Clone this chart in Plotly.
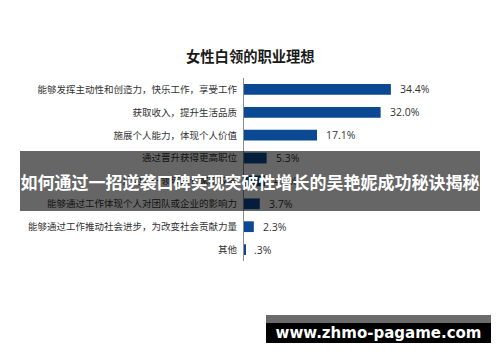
import plotly.graph_objects as go

categories = [
    "能够发挥主动性和创造力，快乐工作，享受工作",
    "获取收入，提升生活品质",
    "施展个人能力，体现个人价值",
    "通过晋升获得更高职位",
    "成为某一领域的专家或权威",
    "能够通过工作体现个人对团队或企业的影响力",
    "能够通过工作推动社会进步，为改变社会贡献力量",
    "其他",
]
values = [34.4, 32.0, 17.1, 5.3, 4.9, 3.7, 2.3, 0.3]
value_labels = ["34.4%", "32.0%", "17.1%", "5.3%", "4.9%", "3.7%", "2.3%", ".3%"]
title_text = "女性白领的职业理想"
banner_text = "如何通过一招逆袭口碑实现突破性增长的吴艳妮成功秘诀揭秘"
watermark_text = "www.zhmo-pagame.com"

W, H = 500, 362
L, R, T, B = 244, 21, 78, 101
PW, PH = W - L - R, H - T - B


def px(x):
    return (x - L) / PW


def py(y):
    return (H - B - y) / PH


CJK = "Noto Sans CJK SC"

fig = go.Figure(go.Bar(
    x=values, y=categories, orientation="h",
    marker=dict(color="#0b4a93", line=dict(width=0)),
    hoverinfo="skip",
))

annotations = []
for v, c, t in zip(values, categories, value_labels):
    annotations.append(dict(
        x=v, y=c, xref="x", yref="y", text=t, showarrow=False,
        xanchor="left", yanchor="middle", xshift=7,
        font=dict(family="Open Sans, " + CJK, size=10.5, color="#333333"),
    ))

annotations.append(dict(
    x=px(250), y=py(55), xref="paper", yref="paper", text="<b>" + title_text + "</b>",
    showarrow=False, xanchor="center", yanchor="middle",
    font=dict(family=CJK, size=14.3, color="#1a1a1a"),
))

annotations.append(dict(
    x=px(250), y=py(181), xref="paper", yref="paper", text="<b>" + banner_text + "</b>",
    showarrow=False, xanchor="center", yanchor="middle",
    width=460, height=60, bgcolor="rgba(0,0,0,0.6)", borderpad=0, borderwidth=0,
    font=dict(family=CJK, size=17, color="#ffffff"),
))

annotations.append(dict(
    x=px(378.5), y=py(333), xref="paper", yref="paper", text="<b>" + watermark_text + "</b>",
    showarrow=False, xanchor="center", yanchor="middle",
    width=225, height=20, bgcolor="#000000", borderpad=0, borderwidth=0,
    font=dict(family="DejaVu Sans, Open Sans", size=15, color="#ffffff"),
))

shapes = [dict(
    type="rect", xref="paper", yref="paper",
    x0=px(266), x1=px(491), y0=py(323), y1=py(315),
    fillcolor="#6b6b6b", line=dict(width=0), layer="above",
)]

fig.update_layout(
    width=W, height=H,
    margin=dict(l=L, r=R, t=T, b=B),
    paper_bgcolor="white", plot_bgcolor="white",
    showlegend=False, bargap=0.53,
    xaxis=dict(range=[0, PW / 4.27], visible=False, fixedrange=True),
    yaxis=dict(
        autorange="reversed", showline=True, linecolor="#8c8c8c", linewidth=1,
        ticks="", showgrid=False, ticklabelstandoff=4,
        tickfont=dict(family=CJK, size=9.5, color="#333333"),
    ),
    annotations=annotations,
    shapes=shapes,
)

fig.write_html("out.html")
